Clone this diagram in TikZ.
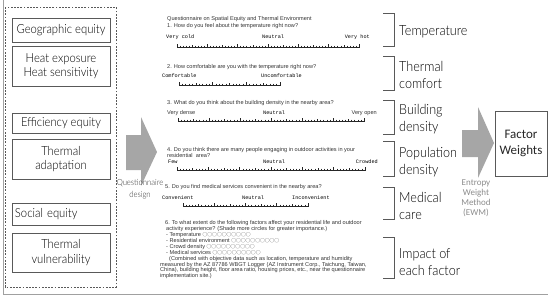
\documentclass[tikz,border=0pt]{standalone}
\usepackage{fontspec}
\setmainfont{Liberation Sans}
\newfontfamily\labfont{Lato}[UprightFont=* Light, FakeStretch=0.9]
\newfontfamily\calfont{Carlito}
\newfontfamily\rulmono{Liberation Mono}
\newfontfamily\cjkfont{Noto Sans CJK SC}
\definecolor{boxgray}{HTML}{595959}
\definecolor{arrowgray}{HTML}{A6A6A6}
\definecolor{framegray}{HTML}{A0A0A0}
\definecolor{ewmgray}{HTML}{8C8C8C}
\newcommand\circrow{{\cjkfont\fontsize{4.8}{5.9}\selectfont ○○○○○○○○○○}}
\tikzset{
  lbox/.style={draw=boxgray, line width=0.8pt, minimum width=98pt, align=center,
    font=\labfont\fontsize{12.5}{14.5}\selectfont, text=black, inner sep=0pt},
  rlab/.style={anchor=west, align=left, font=\labfont\fontsize{14}{17}\selectfont,
    text=black, inner sep=0pt},
  qtext/.style={anchor=west, align=left, font=\fontsize{5.6}{5.9}\selectfont,
    text=black!80, inner sep=0pt},
  scl/.style={font=\rulmono\fontsize{5.2}{6}\selectfont, inner sep=0pt, text=black},
  rul/.style={draw=black!85, line width=0.6pt},
  brk/.style={draw=black!65, line width=0.8pt},
  bigarrow/.style={fill=arrowgray, draw=none},
}
\begin{document}
\begin{tikzpicture}[x=1pt,y=-1pt]
\useasboundingbox (0,0) rectangle (550,298);
% outer frame lines
\draw[framegray, line width=0.8pt] (3,0) -- (3,294) -- (548,294);
% dashed group
\draw[boxgray, line width=0.6pt, dash pattern=on 1.8pt off 1.4pt] (5,7) rectangle (116,287);
% left boxes
\node[lbox, minimum height=24pt] (geo) at (61,30) {Geographic equity};
\node[lbox, minimum height=40pt] (heat) at (61,66) {Heat exposure\\Heat sensitivity};
\node[lbox, minimum height=20pt] (eff) at (61,123) {Efficiency equity};
\node[lbox, minimum height=40pt] (adapt) at (61,159) {Thermal\\adaptation};
\node[lbox, minimum height=22pt, text width=92pt, inner xsep=3pt, align=left] (soc) at (61,214) {Social equity};
\node[lbox, minimum height=39pt] (vul) at (61,252.5) {Thermal\\vulnerability};
% left big arrow
\fill[bigarrow] (126,135) -- (141,135) -- (141,117) -- (157,152) -- (141,186) -- (141,170) -- (126,170) -- cycle;
\node[align=center, font=\labfont\fontsize{8.5}{12}\selectfont, text=black!80, inner sep=0pt] (qd) at (140,189) {Questionnaire\\design};
% questionnaire
\node[qtext] (q0) at (167,19) {Questionnaire on Spatial Equity and Thermal Environment};
\node[qtext] (q1) at (167,26) {1. How do you feel about the temperature right now?};
\node[scl, anchor=west] (q1a) at (166,37) {Very cold};
\node[scl, anchor=west] (q1b) at (262,37) {Neutral};
\node[scl, anchor=east] (q1c) at (370,37) {Very hot};
\node[qtext] (q2) at (167,67) {2. How comfortable are you with the temperature right now?};
\node[scl, anchor=west] (q2a) at (162,76) {Comfortable};
\node[scl, anchor=west] (q2b) at (261,76) {Uncomfortable};
\node[qtext] (q3) at (167,103) {3. What do you think about the building density in the nearby area?};
\node[qtext] (q3a) at (167,113) {Very dense};
\node[scl, anchor=west] (q3b) at (263,113) {Neutral};
\node[qtext, anchor=east] (q3c) at (377,113) {Very open};
\node[qtext, anchor=north west] (q4) at (167,147.5) {4. Do you think there are many people engaging in outdoor activities in your\\residential\ \ area?};
\node[scl, anchor=west] (q4a) at (168,161.5) {Few};
\node[scl, anchor=west] (q4b) at (263,161.5) {Neutral};
\node[scl, anchor=east] (q4c) at (378,161.5) {Crowded};
\node[qtext] (q5) at (165,187) {5. Do you find medical services convenient in the nearby area?};
\node[scl, anchor=west] (q5a) at (162,198) {Convenient};
\node[scl, anchor=west] (q5b) at (242,198) {Neutral};
\node[scl, anchor=west] (q5c) at (292,198) {Inconvenient};
% rulers
\foreach \ra/\rb/\ry/\rn in {177/359/47/60, 179/280/85/30, 178/364/121/60, 177/365/170/60, 183/308/206/40}{
  \draw[rul] (\ra,\ry) -- (\rb,\ry);
  \foreach \k in {0,...,\rn}{
    \pgfmathsetmacro\rulx{\ra+\k*(\rb-\ra)/\rn}
    \pgfmathtruncatemacro\rulmod{mod(\k,10)}
    \pgfmathsetmacro\rulh{\rulmod==0 ? 2.8 : (\rulmod==5 ? 2.0 : 1.3)}
    \pgfmathsetmacro\rull{\rulmod==0 ? 1.4 : 0}
    \draw[rul] (\rulx,\ry-\rulh) -- (\rulx,\ry+\rull);
  }
}
\node[qtext, anchor=north west] (q6) at (160,220.5) {%
\hspace*{5pt}6. To what extent do the following factors affect your residential life and outdoor\\
\hspace*{6pt}activity experience? (Shade more circles for greater importance.)\\
\hspace*{6pt}- Temperature \circrow\\
\hspace*{6pt}- Residential environment \circrow\\
\hspace*{6pt}- Crowd density \circrow\\
\hspace*{6pt}- Medical services \circrow\\
\hspace*{9pt}(Combined with objective data such as location, temperature and humidity\\
measured by the AZ 87786 WBGT Logger (AZ Instrument Corp., Taichung, Taiwan,\\
China), building height, floor area ratio, housing prices, etc., near the questionnaire\\
implementation site.)};
% brackets
\draw[brk] (383,13) -- (394,13) -- (394,46) -- (383,46);
\draw[brk] (383,56) -- (394,56) -- (394,90) -- (383,90);
\draw[brk] (383,100) -- (394,100) -- (394,134) -- (383,134);
\draw[brk] (383,141) -- (394,141) -- (394,176) -- (383,176);
\draw[brk] (383,187) -- (394,187) -- (394,219) -- (383,219);
\draw[brk] (383,237) -- (394,237) -- (394,278) -- (383,278);
\node[rlab] (l1) at (399,32) {Temperature};
\node[rlab] (l2) at (399,75) {Thermal\\comfort};
\node[rlab] (l3) at (399,119) {Building\\density};
\node[rlab] (l4) at (399,162.5) {Population\\density};
\node[rlab] (l5) at (399,206) {Medical\\care};
\node[rlab] (l6) at (399,262.5) {Impact of\\each factor};
% right arrow
\fill[bigarrow] (462,130) -- (478,130) -- (478,107) -- (494,143) -- (478,178) -- (478,157) -- (462,157) -- cycle;
\node[draw=boxgray, line width=0.8pt, minimum width=52pt, minimum height=65pt, inner sep=0pt,
  align=center, font=\calfont\fontsize{13}{16}\selectfont, text=black!85] (fw) at (521,143.5) {Factor\\Weights};
\node[anchor=north, align=center, font=\calfont\fontsize{9}{10}\selectfont, text=ewmgray, inner sep=0pt] (ewm) at (476,179.5) {Entropy\\Weight\\Method\\(EWM)};
\end{tikzpicture}
\end{document}
